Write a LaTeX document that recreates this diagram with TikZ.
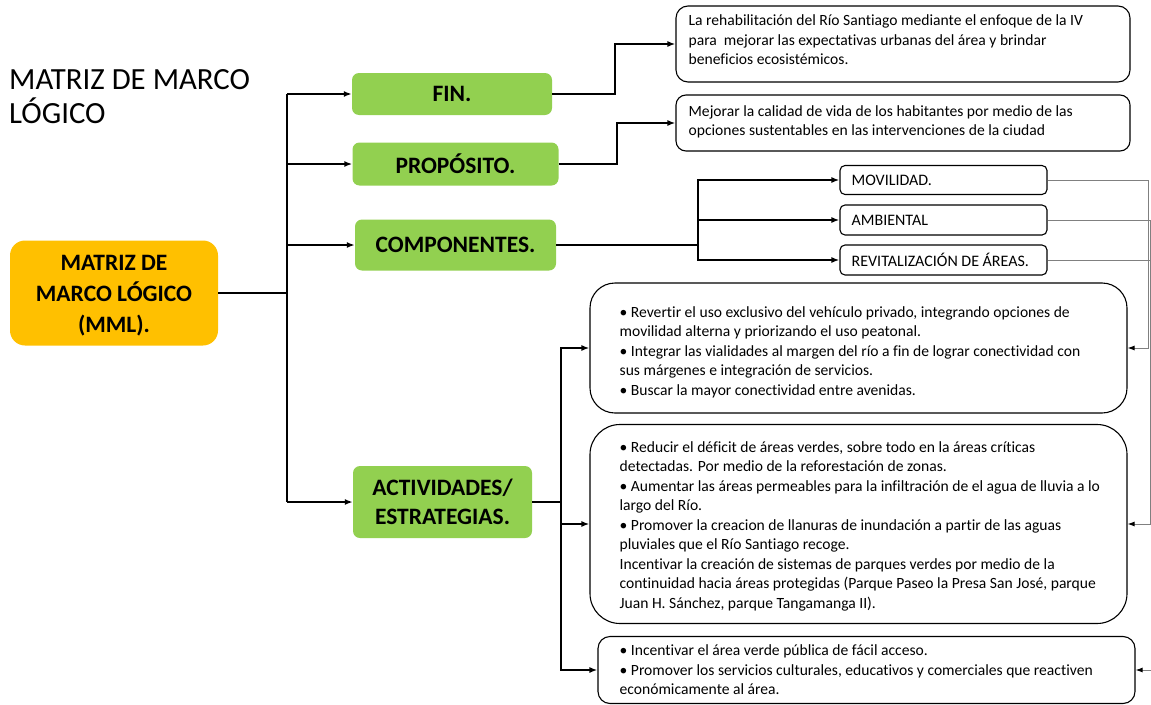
\documentclass[tikz,border=0pt]{standalone}
\usepackage{fontspec}
\setmainfont{Carlito}[Ligatures=NoCommon]
\usetikzlibrary{arrows.meta}
\definecolor{mmlorange}{HTML}{FFC000}
\definecolor{mmlgreen}{HTML}{92D050}
\definecolor{linegray}{HTML}{808080}
\begin{document}
\begin{tikzpicture}[x=1pt,y=-1pt,
  conn/.style={line width=2pt, black},
  arr/.style={conn, -{Latex[length=8pt,width=6pt]}},
  garr/.style={line width=1pt, draw=linegray, -{Latex[length=7pt,width=5pt,color=black]}},
  headbox/.style={rounded corners=7pt, inner sep=0pt, align=center,
    font=\fontsize{23.5}{29}\selectfont\bfseries},
  greenbox/.style={headbox, fill=mmlgreen},
  wbox/.style={draw=black, line width=1.1pt, fill=white, inner sep=0pt},
  txt/.style={inner sep=0pt, anchor=west, align=left,
    font=\fontsize{15.6}{19.5}\selectfont},
  btxt/.style={inner sep=0pt, anchor=west, align=left,
    font=\fontsize{15.6}{19.5}\selectfont},
  ctxt/.style={inner sep=0pt, anchor=west, font=\fontsize{16}{18}\selectfont}
]
\useasboundingbox (0,0) rectangle (1151,704);

% title
\node[inner sep=0pt, anchor=north west, align=left,
  font=\fontsize{30.8}{34.5}\selectfont] (title) at (9,69)
  {MATRIZ DE MARCO\\LÓGICO};

% left column
\node[fill=mmlorange, rounded corners=15pt, inner sep=0pt, minimum width=208pt,
  minimum height=105pt] (mml) at (114,293) {};
\node[inner sep=0pt, align=center, font=\fontsize{23.5}{31}\selectfont\bfseries]
  (mmlt) at ([yshift=-3pt]mml.center) {MATRIZ DE\\MARCO LÓGICO\\(MML).};

\node[greenbox, minimum width=200pt, minimum height=42pt] (fin) at (452,94) {FIN.};
\node[greenbox, minimum width=206pt, minimum height=43pt] (prop) at (455.5,164) {PROPÓSITO.};
\node[greenbox, minimum width=201pt, minimum height=51pt] (comp) at (455.5,245) {COMPONENTES.};
\node[greenbox, minimum width=179pt, minimum height=72pt] (act) at (442.5,502) {ACTIVIDADES/\\ESTRATEGIAS.};

% right boxes
\node[wbox, rounded corners=12pt, minimum width=454pt, minimum height=76pt] (box1) at (903,44) {};
\node[wbox, rounded corners=10pt, minimum width=454pt, minimum height=56pt] (box2) at (903,123) {};
\node[wbox, rounded corners=5pt, minimum width=207pt, minimum height=29pt] (mov) at (943.5,180) {};
\node[wbox, rounded corners=5pt, minimum width=207pt, minimum height=30pt] (amb) at (943.5,220) {};
\node[wbox, rounded corners=5pt, minimum width=207pt, minimum height=30pt] (rev) at (943.5,260) {};
\node[wbox, rounded corners=25pt, minimum width=537pt, minimum height=130pt] (boxA) at (858.5,348) {};
\node[wbox, rounded corners=30pt, minimum width=537pt, minimum height=199pt] (boxB) at (858.5,524) {};
\node[wbox, rounded corners=12pt, minimum width=537pt, minimum height=67pt] (boxC) at (866.5,670) {};

% texts
\node[txt] (t1) at ([xshift=13pt,yshift=4pt]box1.west)
  {La rehabilitación del Río Santiago mediante el enfoque de la IV\\
   para~ mejorar las expectativas urbanas del área y brindar\\
   beneficios ecosistémicos.};
\node[txt] (t2) at ([xshift=13pt,yshift=1pt]box2.west)
  {Mejorar la calidad de vida de los habitantes por medio de las\\
   opciones sustentables en las intervenciones de la ciudad};
\node[ctxt] (tm) at ([xshift=12pt]mov.west) {MOVILIDAD.};
\node[ctxt] (ta) at ([xshift=12pt]amb.west) {AMBIENTAL};
\node[ctxt] (tr) at ([xshift=12pt]rev.west) {REVITALIZACIÓN DE ÁREAS.};
\node[btxt] (tA) at ([xshift=30pt,yshift=-4pt]boxA.west)
  {• Revertir el uso exclusivo del vehículo privado, integrando opciones de\\
   movilidad alterna y priorizando el uso peatonal.\\
   • Integrar las vialidades al margen del río a fin de lograr conectividad con\\
   sus márgenes e integración de servicios.\\
   • Buscar la mayor conectividad entre avenidas.};
\node[btxt] (tB) at ([xshift=30pt,yshift=-2pt]boxB.west)
  {• Reducir el déficit de áreas verdes, sobre todo en la áreas críticas\\
   detectadas. Por medio de la reforestación de zonas.\\
   • Aumentar las áreas permeables para la infiltración de el agua de lluvia a lo\\
   largo del Río.\\
   • Promover la creacion de llanuras de inundación a partir de las aguas\\
   pluviales que el Río Santiago recoge.\\
   Incentivar la creación de sistemas de parques verdes por medio de la\\
   continuidad hacia áreas protegidas (Parque Paseo la Presa San José, parque\\
   Juan H. Sánchez, parque Tangamanga II).};
\node[btxt] (tC) at ([xshift=22pt,yshift=0pt]boxC.west)
  {• Incentivar el área verde pública de fácil acceso.\\
   • Promover los servicios culturales, educativos y comerciales que reactiven\\
   económicamente al área.};

% trunk
\coordinate (trTop) at (287,94);
\coordinate (trMid) at (287,293);
\coordinate (trBot) at (287,502);
\draw[conn] (mml.east) -- (trMid);
\draw[conn] (trTop) -- (trBot);
\draw[arr] (trTop) -- (fin.west);
\draw[arr] (trTop |- prop.west) -- (prop.west);
\draw[arr] (trTop |- comp.west) -- (comp.west);
\draw[arr] (trBot) -- (act.west);

% fin / proposito
\draw[arr] (fin.east) -- ++(63,0) |- (box1.west);
\draw[arr] (prop.east) -- ++(58.5,0) |- (box2.west);

% componentes
\coordinate (cj) at (698,245);
\draw[conn] (comp.east) -- (cj);
\draw[arr] (cj) |- (mov.west);
\draw[arr] (cj) |- (amb.west);
\draw[arr] (cj) |- (rev.west);

% actividades
\coordinate (aj) at (561,502);
\draw[conn] (act.east) -- (aj);
\draw[arr] (aj) |- (boxA.west);
\draw[arr] (aj) |- (boxB.west);
\draw[arr] (aj) |- (boxC.west);

% right side feedback
\coordinate (r1) at (1148,0);
\coordinate (r2) at (1150,0);
\coordinate (r3) at (1151.5,0);
\draw[garr] (mov.east) -| (r1 |- boxA.east) -- (boxA.east);
\draw[garr] (amb.east) -| (r2 |- boxB.east) -- (boxB.east);
\draw[garr] (rev.east) -| (r3 |- boxC.east) -- (boxC.east);
\end{tikzpicture}
\end{document}
